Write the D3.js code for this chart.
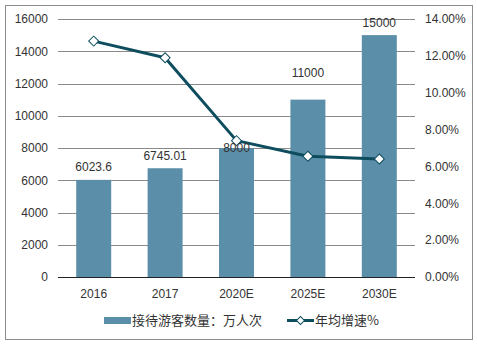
<!DOCTYPE html>
<html><head><meta charset="utf-8">
<script src="https://cdn.jsdelivr.net/npm/d3@7"></script>
<style>
body{margin:0;background:#fff;}
svg{display:block;font-family:"Liberation Sans",Arial,sans-serif;}
</style></head>
<body><svg id="c" width="477" height="345"></svg>
<script>
const categories = ["2016","2017","2020E","2025E","2030E"];
const visitors = [6023.6, 6745.01, 8000, 11000, 15000];
const visitorLabels = ["6023.6","6745.01","8000","11000","15000"];
const growth = [12.8, 11.9, 7.4, 6.55, 6.4];
const leftTicks = [0,2000,4000,6000,8000,10000,12000,14000,16000];
const rightTicks = [0,2,4,6,8,10,12,14];
const seriesNames = ["接待游客数量：万人次","年均增速%"];

// layout (not data)
const labelNudge = [14, 13, 1, 28, 13];

const svg = d3.select("#c");
const L = 58, R = 415, T = 19, B = 277;
const barColor = "#5b8fa9", lineColor = "#0d4d5e", textColor = "#333";

svg.append("rect").attr("x",5.5).attr("y",5.5).attr("width",467).attr("height",334)
  .attr("fill","#fff").attr("stroke","#8c8c8c");

const x = d3.scaleBand().domain(categories).range([L,R]).paddingInner(0.51).paddingOuter(0.255);
const xc = d => x(d) + x.bandwidth()/2;
const y = d3.scaleLinear().domain([0,16000]).range([B,T]);
const y2 = d3.scaleLinear().domain([0,14]).range([B,T]);

// gridlines + left axis
const yAxis = d3.axisLeft(y).tickValues(leftTicks).tickSize(-(R-L)).tickPadding(10).tickFormat(d3.format("d"));
const gy = svg.append("g").attr("transform",`translate(${L},0)`).call(yAxis);
gy.select(".domain").remove();
gy.selectAll(".tick line").attr("stroke","#8a8a8a").attr("shape-rendering","crispEdges");
gy.selectAll(".tick text").attr("font-size",12).attr("fill",textColor).attr("x",-10);

// right axis
const y2Axis = d3.axisRight(y2).tickValues(rightTicks).tickSize(0).tickPadding(10).tickFormat(d => d3.format(".2f")(d)+"%");
const gy2 = svg.append("g").attr("transform",`translate(${R},0)`).call(y2Axis);
gy2.select(".domain").remove();
gy2.selectAll(".tick text").attr("font-size",12).attr("fill",textColor);

// bars
svg.append("g").selectAll("rect").data(visitors).join("rect")
  .attr("x",(d,i)=>x(categories[i])).attr("width",x.bandwidth())
  .attr("y",d=>y(d)).attr("height",d=>B-y(d)).attr("fill",barColor);

// x axis
const xAxis = d3.axisBottom(x).tickSize(0).tickPadding(12);
const gx = svg.append("g").attr("transform",`translate(0,${B})`).call(xAxis);
gx.select(".domain").attr("stroke","#222").attr("d",`M${L},0.5H${R}`);
gx.selectAll(".tick text").attr("font-size",12).attr("fill",textColor);

// line
const line = d3.line().x((d,i)=>xc(categories[i])).y(d=>y2(d));
svg.append("path").datum(growth).attr("d",line).attr("fill","none")
  .attr("stroke",lineColor).attr("stroke-width",3).attr("stroke-linejoin","round");
svg.append("g").selectAll("path").data(growth).join("path")
  .attr("d",d3.symbol().type(d3.symbolSquare).size(50))
  .attr("transform",(d,i)=>`translate(${xc(categories[i])},${y2(d)}) rotate(45)`)
  .attr("fill","#fff").attr("stroke",lineColor).attr("stroke-width",1);

// value labels
svg.append("g").selectAll("text").data(visitors).join("text")
  .attr("x",(d,i)=>xc(categories[i])).attr("y",(d,i)=>y(d)-labelNudge[i]+5)
  .attr("text-anchor","middle").attr("font-size",12).attr("fill",textColor)
  .text((d,i)=>visitorLabels[i]);

// legend
const lg = svg.append("g").attr("font-family","'Noto Sans CJK SC','Liberation Sans',sans-serif");
lg.append("rect").attr("x",104).attr("y",317).attr("width",27).attr("height",7).attr("fill",barColor);
lg.append("text").attr("x",132).attr("y",325).attr("font-size",13).attr("fill",textColor).text(seriesNames[0]);
lg.append("line").attr("x1",287).attr("x2",314).attr("y1",320.5).attr("y2",320.5).attr("stroke",lineColor).attr("stroke-width",3);
lg.append("path").attr("d",d3.symbol().type(d3.symbolSquare).size(32))
  .attr("transform","translate(300.5,320.5) rotate(45)").attr("fill","#fff").attr("stroke",lineColor);
lg.append("text").attr("x",315).attr("y",325).attr("font-size",13).attr("fill",textColor).text(seriesNames[1]);
</script></body></html>
